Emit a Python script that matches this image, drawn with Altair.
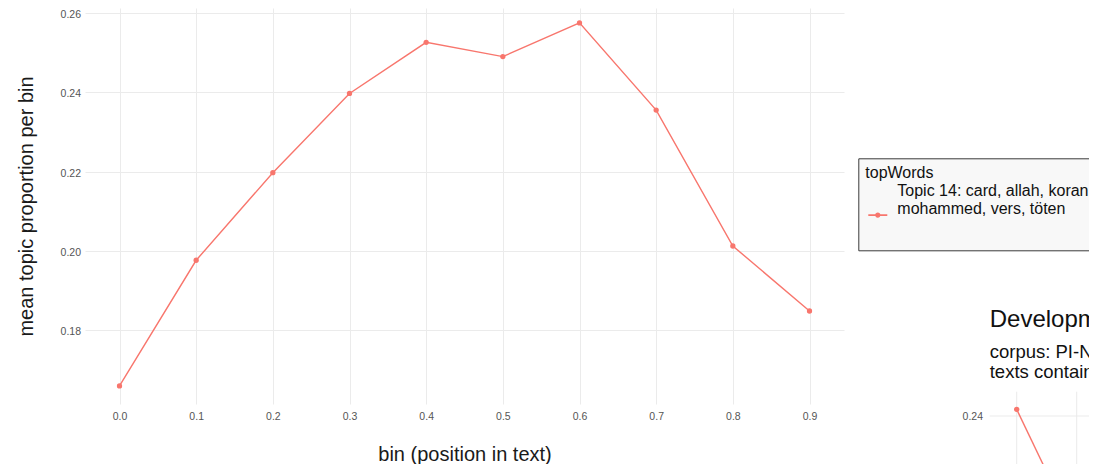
import altair as alt
import pandas as pd

# ---------------- data: main chart ----------------
bins = [0.0, 0.1, 0.2, 0.3, 0.4, 0.5, 0.6, 0.7, 0.8, 0.9]
mean_prop = [0.1659, 0.1976, 0.2197, 0.2397, 0.2526, 0.2490, 0.2575, 0.2355, 0.2012, 0.1848]
topic = "Topic 14: card, allah, koran,\n\u00a0mohammed, vers, töten"
legend_title = "topWords"
x_ticks = [0.0, 0.1, 0.2, 0.3, 0.4, 0.5, 0.6, 0.7, 0.8, 0.9]
y_ticks = [0.18, 0.20, 0.22, 0.24, 0.26]
x_title = "bin (position in text)"
y_title = "mean topic proportion per bin"

# ---------- data: neighbouring chart (only its corner is visible) ----------
bins2 = [0.0, 0.1]
mean_prop2 = [0.2419, 0.2061]
x_ticks2 = [0.0, 0.1]
y_ticks2 = [0.24]
title2 = "Development of topic proportions"
subtitle2 = ["corpus: PI-News", "texts containing keywords"]

# ---------------- layout / style ----------------
PLOT_W, PLOT_H = 759, 396
CANVAS_W, CANVAS_H = 1081, 456
PAD = {"left": 77, "top": 0, "right": CANVAS_W - 77 - PLOT_W, "bottom": CANVAS_H - PLOT_H}
COLOR = "#F8766D"
GRID = "#EBEBEB"
TICK_COLOR = "#555555"
FONT = "Liberation Sans"

# ---------------- main chart ----------------
df = pd.DataFrame({"bin": bins, "prop": mean_prop, "topWords": [topic] * len(bins)})

xs = alt.Scale(domain=[-0.045, 0.945], nice=False, zero=False)
ys = alt.Scale(domain=[0.16133, 0.26126], nice=False, zero=False)

x_enc = alt.X(
    "bin:Q", scale=xs,
    axis=alt.Axis(values=x_ticks, format=".1f", title=x_title,
                  labelFontSize=10.5, labelColor=TICK_COLOR, labelPadding=15,
                  labelBaseline="alphabetic", labelFlush=False,
                  ticks=False, tickSize=0, domain=False,
                  grid=True, gridColor=GRID, gridWidth=1,
                  titleFontSize=20, titleFontWeight="normal", titleColor="#1a1a1a",
                  titleX=PLOT_W / 2, titleY=56, titleAlign="center",
                  titleBaseline="alphabetic"))
y_enc = alt.Y(
    "prop:Q", scale=ys,
    axis=alt.Axis(values=y_ticks, format=".2f", title=y_title,
                  labelFontSize=10.5, labelColor=TICK_COLOR, labelPadding=4.5,
                  labelOffset=1.5, labelFlush=False,
                  ticks=False, tickSize=0, domain=False,
                  grid=True, gridColor=GRID, gridWidth=1,
                  titleFontSize=20, titleFontWeight="normal", titleColor="#1a1a1a",
                  titleX=-52.5, titleY=PLOT_H / 2, titleAngle=270,
                  titleAlign="center", titleBaseline="alphabetic"))

# legend key: a short line with a dot (drawn 2.5 units below the anchor so that
# it sits on the second label line), plus an invisible sliver that makes the box taller
legend_symbol = ("M-1,2.48L1,2.48L1,2.64L-1,2.64Z "
                 "M0.28,2.56A0.28,0.28 0 1,1 -0.28,2.56A0.28,0.28 0 1,1 0.28,2.56Z "
                 "M0,5.45L0.001,5.45L0,5.4511Z")

color_enc = alt.Color(
    "topWords:N",
    scale=alt.Scale(domain=[topic], range=[COLOR]),
    legend=alt.Legend(title=legend_title, orient="none", legendX=773.3, legendY=150.3,
                      labelExpr="split(datum.label, '\\n')", labelLimit=0,
                      labelFontSize=16, labelColor="#111111", labelBaseline="middle",
                      labelOffset=10, symbolOffset=3,
                      titleFontSize=16, titleFontWeight="normal", titleColor="#111111",
                      titlePadding=0,
                      padding=7, strokeColor="#3a3a3a", fillColor="#f8f8f8",
                      cornerRadius=0,
                      symbolType=legend_symbol, symbolSize=361,
                      symbolFillColor=COLOR, symbolStrokeWidth=0, symbolOpacity=1))

line1 = alt.Chart(df).mark_line(strokeWidth=1.4, color=COLOR).encode(x=x_enc, y=y_enc)
pts1 = alt.Chart(df).mark_point(filled=True, size=28, opacity=1).encode(
    x=x_enc, y=y_enc, color=color_enc)
main = alt.layer(line1, pts1)

# ---------------- neighbouring chart (partially visible) ----------------
xs2 = alt.Scale(domain=[0.0, 0.1], range=[931.7, 991.7], nice=False, zero=False)
ys2 = alt.Scale(domain=[0.20, 0.24], range=[548, 408], nice=False, zero=False)

df2 = pd.DataFrame({"bin": bins2, "prop": mean_prop2})
grid_h2 = pd.DataFrame({"y": y_ticks2, "x_from": [-0.045] * len(y_ticks2),
                        "x_to": [0.3] * len(y_ticks2)})
grid_v2 = pd.DataFrame({"x": x_ticks2, "y_from": [0.24694] * len(x_ticks2),
                        "y_to": [0.15] * len(x_ticks2)})
tick2 = pd.DataFrame({"x": [-0.045] * len(y_ticks2), "y": y_ticks2})
ttl2 = pd.DataFrame({"x": [-0.045], "t": [title2]})
sub2a = pd.DataFrame({"x": [-0.045], "t": [subtitle2[0]]})
sub2b = pd.DataFrame({"x": [-0.045], "t": [subtitle2[1]]})

g_h = alt.Chart(grid_h2).mark_rule(color=GRID, strokeWidth=1).encode(
    x=alt.X("x_from:Q", scale=xs2, axis=None), x2="x_to:Q",
    y=alt.Y("y:Q", scale=ys2, axis=None))
g_v = alt.Chart(grid_v2).mark_rule(color=GRID, strokeWidth=1).encode(
    x=alt.X("x:Q", scale=xs2, axis=None),
    y=alt.Y("y_from:Q", scale=ys2, axis=None), y2="y_to:Q")
line2 = alt.Chart(df2).mark_line(strokeWidth=1.4, color=COLOR).encode(
    x=alt.X("bin:Q", scale=xs2, axis=None), y=alt.Y("prop:Q", scale=ys2, axis=None))
pts2 = alt.Chart(df2).mark_point(filled=True, size=28, opacity=1, color=COLOR).encode(
    x=alt.X("bin:Q", scale=xs2, axis=None), y=alt.Y("prop:Q", scale=ys2, axis=None))
tick_lbl2 = alt.Chart(tick2).mark_text(align="right", baseline="middle", dx=-6.7, dy=1,
                                       fontSize=10.5, color=TICK_COLOR).encode(
    x=alt.X("x:Q", scale=xs2, axis=None), y=alt.Y("y:Q", scale=ys2, axis=None),
    text=alt.Text("y:Q", format=".2f"))
title_t2 = alt.Chart(ttl2).mark_text(align="left", baseline="alphabetic", fontSize=24,
                                     color="#111111").encode(
    x=alt.X("x:Q", scale=xs2, axis=None), y=alt.value(319), text="t:N")
sub_t2a = alt.Chart(sub2a).mark_text(align="left", baseline="alphabetic", fontSize=18.5,
                                     color="#111111").encode(
    x=alt.X("x:Q", scale=xs2, axis=None), y=alt.value(350), text="t:N")
sub_t2b = alt.Chart(sub2b).mark_text(align="left", baseline="alphabetic", fontSize=18.5,
                                     color="#111111").encode(
    x=alt.X("x:Q", scale=xs2, axis=None), y=alt.value(369.5), text="t:N")

second = alt.layer(g_h, g_v, line2, pts2, tick_lbl2, title_t2, sub_t2a, sub_t2b)

chart = (
    alt.layer(main, second)
    .resolve_scale(x="independent", y="independent")
    .properties(width=PLOT_W, height=PLOT_H, padding=PAD,
                autosize=alt.AutoSizeParams(type="none"), background="white")
    .configure(font=FONT)
    .configure_view(strokeWidth=0)
)

chart.save("out.html", embed_options={"renderer": "svg", "actions": False})
